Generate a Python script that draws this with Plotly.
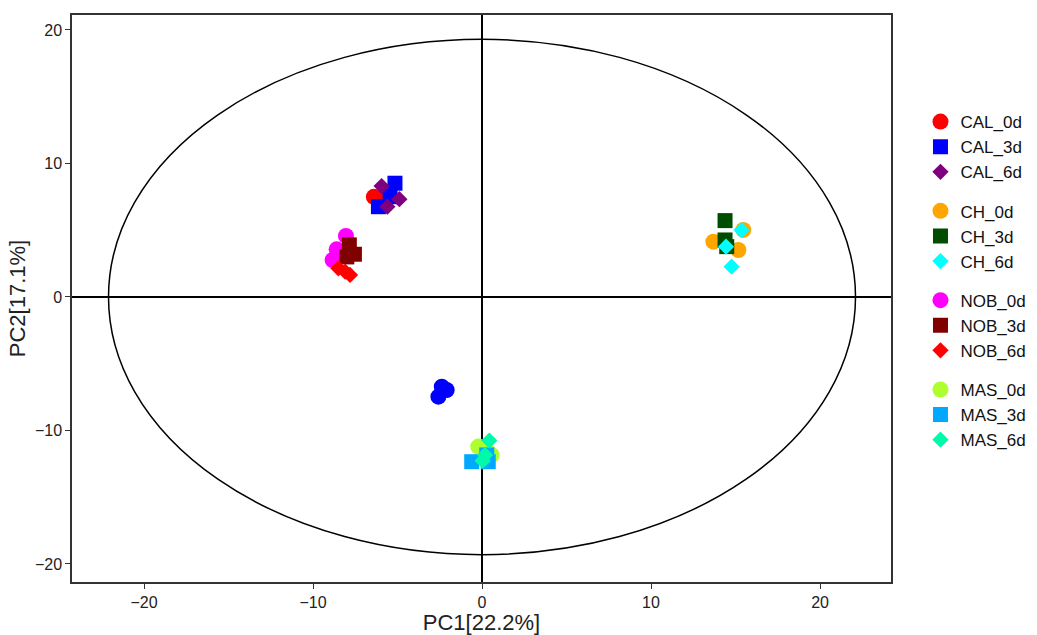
import plotly.graph_objects as go

# ---- data ----
groups = ["CAL_0d", "CAL_3d", "CAL_6d",
          "CH_0d", "CH_3d", "CH_6d",
          "NOB_0d", "NOB_3d", "NOB_6d",
          "MAS_0d", "MAS_3d", "MAS_6d"]

cal_0d_x = [-6.4, -6.1, -5.8]
cal_0d_y = [7.5, 7.3, 7.6]
cal_3d_x = [-5.15, -6.13, -5.44]
cal_3d_y = [8.52, 6.76, 7.51]
cal_6d_x = [-5.94, -5.6, -4.89]
cal_6d_y = [8.31, 6.76, 7.32]

ch_0d_x = [13.69, 15.46, 15.17]
ch_0d_y = [4.14, 5.02, 3.52]
ch_3d_x = [14.38, 14.48, 14.38]
ch_3d_y = [5.72, 3.77, 4.27]
ch_6d_x = [15.36, 14.44, 14.77]
ch_6d_y = [5.02, 3.77, 2.27]

nob_0d_x = [-8.05, -8.6, -8.84]
nob_0d_y = [4.57, 3.57, 2.77]
nob_3d_x = [-7.85, -7.55, -8.0]
nob_3d_y = [3.9, 3.2, 3.0]
nob_6d_x = [-8.5, -8.1, -7.81]
nob_6d_y = [2.15, 1.9, 1.65]

mas_0d_x = [-0.22, 0.57, 0.35]
mas_0d_y = [-11.21, -11.83, -11.6]
mas_3d_x = [-0.61, 0.28, 0.37]
mas_3d_y = [-12.34, -11.83, -12.34]
mas_6d_x = [0.43, 0.04, 0.18]
mas_6d_y = [-10.76, -12.26, -11.83]

# unlabeled blue circles (not in legend)
extra_x = [-2.38, -2.58, -2.09]
extra_y = [-6.72, -7.47, -6.97]

xs = [cal_0d_x, cal_3d_x, cal_6d_x, ch_0d_x, ch_3d_x, ch_6d_x,
      nob_0d_x, nob_3d_x, nob_6d_x, mas_0d_x, mas_3d_x, mas_6d_x]
ys = [cal_0d_y, cal_3d_y, cal_6d_y, ch_0d_y, ch_3d_y, ch_6d_y,
      nob_0d_y, nob_3d_y, nob_6d_y, mas_0d_y, mas_3d_y, mas_6d_y]

colors = ["#FF0000", "#0000FF", "#7F007F",
          "#FFA500", "#004D00", "#00FFFF",
          "#FF00FF", "#800000", "#FF0000",
          "#ADFF2F", "#00A9FF", "#00FAAA"]
legend_groups = ["CAL", "CAL", "CAL", "CH", "CH", "CH",
                 "NOB", "NOB", "NOB", "MAS", "MAS", "MAS"]
symbols = ["circle", "square", "diamond"] * 4
sizes = {"circle": 16, "square": 15, "diamond": 12.5}

# ellipse semi-axes and axis ranges
ell_a, ell_b = 22.1, 19.3
x_range = [-24.26, 24.2]
y_range = [-21.35, 21.12]
x_ticks = [-20, -10, 0, 10, 20]
y_ticks = [-20, -10, 0, 10, 20]

FONT = "Liberation Sans, Arial, sans-serif"

fig = go.Figure()

fig.add_trace(go.Scatter(
    x=extra_x, y=extra_y, mode="markers", showlegend=False,
    marker=dict(symbol="circle", size=16, color="#0000FF", line=dict(width=0)),
))

for name, x, y, c, g, s in zip(groups, xs, ys, colors, legend_groups, symbols):
    fig.add_trace(go.Scatter(
        x=x, y=y, mode="markers", name=name, legendgroup=g,
        marker=dict(symbol=s, size=sizes[s], color=c, line=dict(width=0)),
    ))

fig.add_shape(type="circle", xref="x", yref="y",
              x0=-ell_a, x1=ell_a, y0=-ell_b, y1=ell_b,
              line=dict(color="black", width=1.5), layer="below")

axis_common = dict(
    showgrid=False, zeroline=True, zerolinecolor="black", zerolinewidth=1.5,
    showline=True, mirror=True, linecolor="#333333", linewidth=1.5,
    ticks="outside", ticklen=5, tickwidth=1.2, tickcolor="#333333",
    tickfont=dict(family=FONT, size=16, color="#222222"),
    automargin=False,
)

fig.update_xaxes(range=x_range, tickvals=x_ticks,
                 title=dict(text="PC1[22.2%]", font=dict(family=FONT, size=22, color="#222222"), standoff=6),
                 **axis_common)
fig.update_yaxes(range=y_range, tickvals=y_ticks,
                 title=dict(text="PC2[17.1%]", font=dict(family=FONT, size=22, color="#222222"), standoff=3),
                 **axis_common)

fig.update_layout(
    width=1037, height=635,
    margin=dict(l=72, r=146, t=15, b=53, autoexpand=False),
    plot_bgcolor="white", paper_bgcolor="white",
    font=dict(family=FONT),
    legend=dict(
        x=1.036, xanchor="left", y=0.843, yanchor="top",
        traceorder="grouped", tracegroupgap=14,
        font=dict(family=FONT, size=17, color="#111111"),
        bgcolor="rgba(0,0,0,0)",
    ),
)

fig.write_html("out.html")
